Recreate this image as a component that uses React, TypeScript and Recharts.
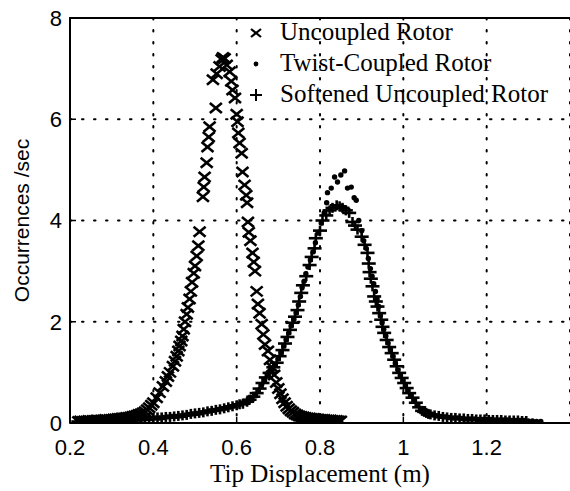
import React from "react";
import {
  ScatterChart,
  Scatter,
  XAxis,
  YAxis,
  CartesianGrid,
  ReferenceLine,
  Legend,
} from "recharts";

// Tip displacement histograms as [x (m), occurrences/sec]
const uncoupled: [number, number][] = [
  [0.22, 0.03], [0.225, 0.04], [0.23, 0.03], [0.235, 0.04], [0.24, 0.04], [0.245, 0.05],
  [0.25, 0.04], [0.255, 0.05], [0.26, 0.05], [0.265, 0.06], [0.27, 0.05], [0.275, 0.06],
  [0.28, 0.06], [0.285, 0.07], [0.29, 0.06], [0.295, 0.07], [0.3, 0.07], [0.305, 0.08],
  [0.31, 0.08], [0.315, 0.09], [0.32, 0.09], [0.325, 0.1], [0.33, 0.1], [0.335, 0.11],
  [0.34, 0.11], [0.345, 0.12], [0.35, 0.13], [0.355, 0.14], [0.36, 0.15], [0.365, 0.17],
  [0.37, 0.18], [0.375, 0.2], [0.38, 0.22], [0.385, 0.26], [0.39, 0.3], [0.395, 0.35],
  [0.4, 0.4], [0.408, 0.5], [0.415, 0.6], [0.423, 0.72], [0.43, 0.82], [0.435, 0.92],
  [0.44, 1.0], [0.447, 1.12], [0.452, 1.22], [0.456, 1.32], [0.46, 1.42], [0.463, 1.52],
  [0.467, 1.62], [0.47, 1.72], [0.473, 1.85], [0.476, 2.0], [0.48, 2.15], [0.483, 2.28],
  [0.487, 2.45], [0.49, 2.6], [0.493, 2.78], [0.497, 2.96], [0.5, 3.1], [0.504, 3.3],
  [0.508, 3.5], [0.511, 3.78], [0.519, 4.47], [0.521, 4.66], [0.523, 4.86], [0.528, 5.14],
  [0.53, 5.45], [0.533, 5.65], [0.535, 5.85], [0.55, 6.22], [0.543, 6.78], [0.552, 6.9],
  [0.559, 7.04], [0.564, 7.18], [0.567, 7.22], [0.571, 7.2], [0.576, 7.07], [0.583, 6.94],
  [0.587, 6.75], [0.59, 6.58], [0.596, 6.42], [0.6, 6.1], [0.602, 5.95], [0.604, 5.73],
  [0.607, 5.53], [0.612, 5.33], [0.614, 4.96], [0.619, 4.7], [0.623, 4.5], [0.625, 4.35],
  [0.627, 3.97], [0.629, 3.77], [0.633, 3.6], [0.638, 3.36], [0.641, 3.18], [0.644, 3.0],
  [0.648, 2.6], [0.651, 2.35], [0.655, 2.17], [0.66, 1.95], [0.664, 1.75], [0.668, 1.55],
  [0.675, 1.42], [0.68, 1.25], [0.685, 1.1], [0.69, 0.95], [0.695, 0.8], [0.7, 0.68],
  [0.705, 0.58], [0.71, 0.48], [0.715, 0.4], [0.72, 0.33], [0.725, 0.28], [0.73, 0.24],
  [0.735, 0.21], [0.74, 0.18], [0.745, 0.16], [0.75, 0.14], [0.755, 0.13], [0.76, 0.12],
  [0.765, 0.11], [0.77, 0.1], [0.775, 0.1], [0.78, 0.09], [0.785, 0.09], [0.79, 0.08],
  [0.795, 0.08], [0.8, 0.07], [0.805, 0.07], [0.81, 0.07], [0.815, 0.06], [0.82, 0.06],
  [0.825, 0.06], [0.83, 0.05], [0.835, 0.05], [0.84, 0.05], [0.845, 0.04], [0.85, 0.04],
];

const twistCoupled: [number, number][] = [
  [0.225, 0.02], [0.235, 0.03], [0.245, 0.03], [0.255, 0.03], [0.265, 0.03], [0.275, 0.04],
  [0.285, 0.04], [0.295, 0.04], [0.305, 0.05], [0.315, 0.05], [0.325, 0.06], [0.335, 0.06],
  [0.345, 0.07], [0.355, 0.07], [0.365, 0.08], [0.375, 0.08], [0.385, 0.09], [0.395, 0.09],
  [0.405, 0.1], [0.415, 0.1], [0.425, 0.11], [0.435, 0.12], [0.445, 0.13], [0.455, 0.13],
  [0.465, 0.14], [0.475, 0.15], [0.485, 0.17], [0.495, 0.18], [0.505, 0.19], [0.515, 0.2],
  [0.525, 0.22], [0.535, 0.24], [0.545, 0.25], [0.555, 0.27], [0.565, 0.28], [0.575, 0.3],
  [0.585, 0.32], [0.595, 0.34], [0.605, 0.37], [0.62, 0.41], [0.635, 0.5], [0.645, 0.57],
  [0.652, 0.65], [0.66, 0.76], [0.667, 0.86], [0.675, 0.96], [0.684, 1.06], [0.692, 1.16],
  [0.7, 1.27], [0.707, 1.4], [0.713, 1.52], [0.719, 1.65], [0.725, 1.78], [0.731, 1.92],
  [0.737, 2.05], [0.743, 2.18], [0.748, 2.33], [0.753, 2.5], [0.757, 2.68], [0.762, 2.8],
  [0.766, 2.95], [0.771, 3.08], [0.777, 3.22], [0.783, 3.38], [0.789, 3.56], [0.795, 3.75],
  [0.803, 3.95], [0.81, 4.15], [0.816, 4.35], [0.818, 4.55], [0.827, 4.64], [0.835, 4.86],
  [0.842, 4.76], [0.85, 4.9], [0.859, 4.98], [0.866, 4.64], [0.875, 4.66], [0.882, 4.45],
  [0.887, 4.4], [0.893, 4.0], [0.9, 3.8], [0.905, 3.6], [0.911, 3.45], [0.916, 3.25],
  [0.921, 3.05], [0.925, 2.9], [0.929, 2.75], [0.933, 2.6], [0.937, 2.45], [0.941, 2.3],
  [0.945, 2.12], [0.949, 1.98], [0.953, 1.85], [0.958, 1.72], [0.963, 1.58], [0.969, 1.45],
  [0.975, 1.32], [0.981, 1.18], [0.987, 1.05], [0.993, 0.94], [0.999, 0.84], [1.005, 0.74],
  [1.011, 0.64], [1.018, 0.55], [1.026, 0.45], [1.034, 0.35], [1.042, 0.27], [1.05, 0.22],
  [1.055, 0.2], [1.06, 0.18], [1.065, 0.17], [1.07, 0.16], [1.08, 0.14], [1.09, 0.13],
  [1.1, 0.12], [1.11, 0.11], [1.12, 0.1], [1.13, 0.1], [1.14, 0.09], [1.15, 0.08],
  [1.16, 0.08], [1.17, 0.08], [1.18, 0.07], [1.19, 0.07], [1.2, 0.07], [1.21, 0.07],
  [1.22, 0.06], [1.23, 0.06], [1.24, 0.06], [1.25, 0.06], [1.26, 0.05], [1.27, 0.05],
  [1.28, 0.05], [1.29, 0.05], [1.3, 0.04], [1.31, 0.04], [1.32, 0.03], [1.33, 0.03],
];

const softened: [number, number][] = [
  [0.22, 0.03], [0.23, 0.03], [0.24, 0.03], [0.25, 0.04], [0.26, 0.04], [0.27, 0.04],
  [0.28, 0.04], [0.29, 0.05], [0.3, 0.05], [0.31, 0.06], [0.32, 0.06], [0.33, 0.07],
  [0.34, 0.07], [0.35, 0.08], [0.36, 0.08], [0.37, 0.09], [0.38, 0.09], [0.39, 0.1],
  [0.4, 0.1], [0.41, 0.11], [0.42, 0.11], [0.43, 0.12], [0.44, 0.12], [0.45, 0.13],
  [0.46, 0.14], [0.47, 0.15], [0.48, 0.16], [0.49, 0.18], [0.5, 0.19], [0.51, 0.2],
  [0.52, 0.21], [0.53, 0.23], [0.54, 0.24], [0.55, 0.26], [0.56, 0.27], [0.57, 0.29],
  [0.58, 0.31], [0.59, 0.33], [0.6, 0.35], [0.607, 0.37], [0.615, 0.38], [0.625, 0.42],
  [0.631, 0.46], [0.64, 0.52], [0.648, 0.59], [0.655, 0.68], [0.662, 0.79], [0.67, 0.9],
  [0.679, 0.99], [0.688, 1.1], [0.696, 1.19], [0.703, 1.32], [0.71, 1.44], [0.716, 1.57],
  [0.722, 1.7], [0.728, 1.84], [0.734, 1.98], [0.74, 2.1], [0.746, 2.23], [0.75, 2.4],
  [0.755, 2.57], [0.759, 2.72], [0.767, 2.9], [0.775, 3.12], [0.78, 3.28], [0.787, 3.45],
  [0.79, 3.65], [0.8, 3.8], [0.806, 4.0], [0.815, 4.1], [0.823, 4.2], [0.83, 4.25],
  [0.84, 4.3], [0.847, 4.28], [0.854, 4.25], [0.862, 4.2], [0.87, 4.15], [0.878, 3.97],
  [0.884, 3.9], [0.89, 3.82], [0.9, 3.68], [0.907, 3.52], [0.914, 3.36], [0.917, 3.15],
  [0.919, 2.98], [0.922, 2.85], [0.926, 2.7], [0.93, 2.5], [0.934, 2.4], [0.938, 2.3],
  [0.942, 2.17], [0.947, 2.04], [0.95, 1.9], [0.954, 1.78], [0.96, 1.64], [0.966, 1.5],
  [0.972, 1.38], [0.978, 1.25], [0.984, 1.12], [0.99, 0.99], [0.996, 0.89], [1.002, 0.79],
  [1.008, 0.69], [1.014, 0.59], [1.022, 0.5], [1.03, 0.4], [1.038, 0.31], [1.045, 0.24],
  [1.05, 0.22], [1.055, 0.2], [1.06, 0.18], [1.065, 0.17], [1.075, 0.15], [1.085, 0.14],
  [1.095, 0.12], [1.105, 0.11], [1.115, 0.1], [1.125, 0.1], [1.135, 0.09], [1.145, 0.09],
  [1.155, 0.08], [1.165, 0.08], [1.175, 0.07], [1.185, 0.07], [1.195, 0.07], [1.205, 0.06],
  [1.215, 0.06], [1.225, 0.06], [1.235, 0.06], [1.245, 0.05], [1.255, 0.05], [1.265, 0.05],
  [1.275, 0.05], [1.285, 0.04], [1.295, 0.04],
];

const xTicks = [0.2, 0.4, 0.6, 0.8, 1, 1.2];
const yTicks = [0, 2, 4, 6, 8];

const seriesNames = ["Uncoupled Rotor", "Twist-Coupled Rotor", "Softened Uncoupled Rotor"];

const toPoints = (rows: [number, number][]) => rows.map(([x, y]) => ({ x, y }));

const SANS = "'Liberation Sans', Arial, sans-serif";
const SERIF = "'Liberation Serif', 'Times New Roman', serif";

// marker shapes
const Cross = ({ cx, cy }: any) => (
  <g stroke="#000" strokeWidth={2.6}>
    <line x1={cx - 6} y1={cy - 5} x2={cx + 6} y2={cy + 5} />
    <line x1={cx - 6} y1={cy + 5} x2={cx + 6} y2={cy - 5} />
  </g>
);

const Dot = ({ cx, cy }: any) => <circle cx={cx} cy={cy} r={2.7} fill="#000" />;

const Plus = ({ cx, cy }: any) => (
  <g stroke="#000" strokeWidth={2.6}>
    <line x1={cx - 7} y1={cy} x2={cx + 7} y2={cy} />
    <line x1={cx} y1={cy - 5} x2={cx} y2={cy + 5} />
  </g>
);

// legend glyphs are a little smaller than the plotted ones
const LegendCross = ({ cx, cy }: any) => (
  <g stroke="#000" strokeWidth={2.2}>
    <line x1={cx - 5} y1={cy - 4} x2={cx + 5} y2={cy + 4} />
    <line x1={cx - 5} y1={cy + 4} x2={cx + 5} y2={cy - 4} />
  </g>
);
const LegendDot = ({ cx, cy }: any) => <circle cx={cx} cy={cy} r={2.4} fill="#000" />;
const LegendPlus = ({ cx, cy }: any) => (
  <g stroke="#000" strokeWidth={2}>
    <line x1={cx - 6} y1={cy} x2={cx + 6} y2={cy} />
    <line x1={cx} y1={cy - 6} x2={cx} y2={cy + 6} />
  </g>
);

const legendMarkers = [LegendCross, LegendDot, LegendPlus];

const LegendBox = () => (
  <div style={{ fontFamily: SERIF, fontSize: 25, color: "#000" }}>
    {seriesNames.map((name, i) => {
      const M = legendMarkers[i];
      return (
        <div key={name} style={{ position: "relative", height: 31, whiteSpace: "nowrap" }}>
          <svg width={24} height={31} style={{ position: "absolute", left: 0, top: 0 }}>
            <M cx={12} cy={17} />
          </svg>
          <span style={{ position: "absolute", left: 36, top: 0, lineHeight: "31px" }}>{name}</span>
        </div>
      );
    })}
  </div>
);

export default function App() {
  return (
    <div style={{ position: "absolute", left: 0, top: 0, width: 570, height: 491, background: "#fff" }}>
      <ScatterChart width={570} height={491} margin={{ top: 18, right: 0, left: 0, bottom: 0 }}>
        <CartesianGrid
          stroke="#000"
          strokeWidth={2}
          strokeDasharray="1.5 10.5"
          strokeLinecap="round"
        />
        <XAxis
          type="number"
          dataKey="x"
          domain={[0.2, 1.4]}
          ticks={xTicks}
          allowDataOverflow
          height={68}
          axisLine={{ stroke: "#000", strokeWidth: 2 }}
          tickLine={{ stroke: "#000", strokeWidth: 1.5 }}
          tickSize={-6}
          tickMargin={22}
          tick={{ fontFamily: SANS, fontSize: 22, fill: "#000" }}
          tickFormatter={(v: number) => String(v)}
          label={{
            value: "Tip Displacement (m)",
            position: "center",
            dy: 16,
            style: { fontFamily: SERIF, fontSize: 25, fill: "#000" },
          }}
        />
        <YAxis
          type="number"
          dataKey="y"
          domain={[0, 8]}
          ticks={yTicks}
          allowDataOverflow
          width={70}
          axisLine={{ stroke: "#000", strokeWidth: 2 }}
          tickLine={{ stroke: "#000", strokeWidth: 1.5 }}
          tickSize={-6}
          tickMargin={14}
          tick={{ fontFamily: SANS, fontSize: 22, fill: "#000" }}
          label={{
            value: "Occurrences /sec",
            angle: -90,
            position: "center",
            dx: -13,
            style: { fontFamily: SANS, fontSize: 21, fill: "#000", textAnchor: "middle" },
          }}
        />
        <ReferenceLine y={8} stroke="#000" strokeWidth={2} />
        <Legend
          layout="vertical"
          align="center"
          verticalAlign="middle"
          wrapperStyle={{ left: 244, top: 16, width: 330 }}
          content={() => <LegendBox />}
        />
        <Scatter name={seriesNames[0]} data={toPoints(uncoupled)} shape={Cross} isAnimationActive={false} />
        <Scatter name={seriesNames[1]} data={toPoints(twistCoupled)} shape={Dot} isAnimationActive={false} />
        <Scatter name={seriesNames[2]} data={toPoints(softened)} shape={Plus} isAnimationActive={false} />
      </ScatterChart>
    </div>
  );
}
